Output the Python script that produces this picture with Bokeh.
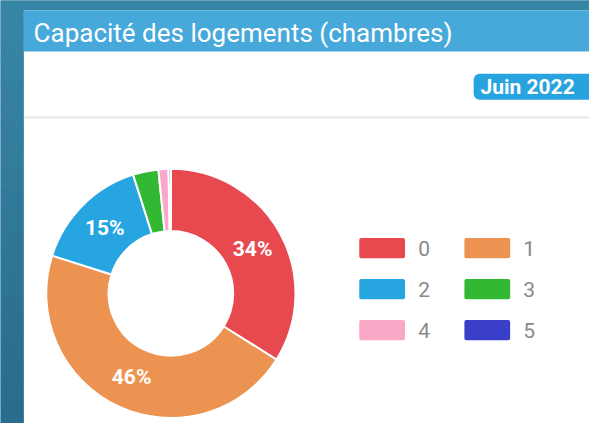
import math
from bokeh.plotting import figure
from bokeh.models import Range1d, ColumnDataSource
from bokeh.core.properties import value
from bokeh.embed import file_html
from bokeh.resources import INLINE

# ---- data ----
title = "Capacité des logements (chambres)"
period = "Juin 2022"
categories = ["0", "1", "2", "3", "4", "5"]
shares = [33.9, 46.0, 15.2, 3.3, 1.3, 0.3]
colors = ["#E8494F", "#EC9351", "#27A5E1", "#33B834", "#FBA8C8", "#3A3FC9"]

# figure maps the full 605x439 reference frame
RW, RH = 605, 439
W, H = 589, 423
def X(x):
    return x
def Y(y):
    return RH - y

p = figure(width=W, height=H, output_backend="svg", toolbar_location=None,
           x_range=Range1d(0, RW), y_range=Range1d(0, RH), min_border=0)
p.axis.visible = False
p.grid.visible = False
p.outline_line_color = None
p.background_fill_color = "#2F7A9C"
p.border_fill_color = "#2F7A9C"

# background gradient (decoration)
n = 20
top_c = (0x38, 0x86, 0xA6)
bot_c = (0x2A, 0x6C, 0x8D)
for k in range(n):
    t = k / (n - 1)
    c = tuple(int(top_c[j] + (bot_c[j] - top_c[j]) * t) for j in range(3))
    col = "#%02X%02X%02X" % c
    y0 = RH - k * RH / n
    p.quad(left=0, right=RW, top=y0 + 1, bottom=y0 - RH / n, fill_color=col, line_color=None)

# card
p.quad(left=X(24), right=RW, top=Y(10), bottom=0, fill_color="white", line_color=None)
# header
p.quad(left=X(24), right=RW, top=Y(10), bottom=Y(53), fill_color="#47A8DA", line_color=None)
p.text(x=[X(34)], y=[Y(34)], text=[title], text_font=value("Roboto"),
       text_font_size="26px", text_color="white", text_baseline="alphabetic")
# separator
p.line(x=[X(24), RW], y=[Y(121.5), Y(121.5)], line_color="#E4E4E4", line_width=2)
# badge
p.quad(left=X(486), right=X(615), top=Y(76), bottom=Y(103), fill_color="#27A3DF",
       line_color=None, border_radius=6)
p.text(x=[X(493)], y=[Y(89.5)], text=[period], text_font=value("Roboto"),
       text_font_size="21px", text_font_style="bold", text_color="white",
       text_baseline="middle")

# donut
cx, cy = X(175), Y(304)
r_in, r_out = 64, 128
total = sum(shares)
starts, ends, mids = [], [], []
cum = 0.0
for s in shares:
    a0 = math.pi / 2 - 2 * math.pi * cum / total
    cum += s
    a1 = math.pi / 2 - 2 * math.pi * cum / total
    starts.append(a1)
    ends.append(a0)
    mids.append((a0 + a1) / 2)
src = ColumnDataSource(dict(start=starts, end=ends, color=colors))
p.annular_wedge(x=cx, y=cy, inner_radius=r_in, outer_radius=r_out,
                start_angle="start", end_angle="end", fill_color="color",
                line_color="white", line_width=2, source=src)

r_mid = (r_in + r_out) / 2
lx, ly, lt = [], [], []
for s, m in zip(shares, mids):
    if s >= 5:
        lx.append(cx + r_mid * math.cos(m))
        ly.append(cy + r_mid * math.sin(m))
        lt.append("%d%%" % round(100 * s / total))
p.text(x=lx, y=ly, text=lt, text_font=value("Roboto"), text_font_size="21px",
       text_font_style="bold", text_color="white", text_align="center",
       text_baseline="middle")

# legend
sx, sy, tx, ty = [], [], [], []
for i, c in enumerate(categories):
    col_i, row_i = i % 2, i // 2
    x0 = 392 + col_i * 108
    y0 = 257 + row_i * 42.5
    sx.append(X(x0))
    sy.append(Y(y0))
    tx.append(X(x0 + 37))
    ty.append(Y(y0))
p.rect(x=sx, y=sy, width=47, height=21, fill_color=colors, line_color=None,
       border_radius=2)
p.text(x=tx, y=ty, text=categories, text_font=value("Roboto"), text_font_size="21px",
       text_color="#8A8A8A", text_baseline="middle")

open("out.html", "w").write(file_html(p, INLINE))
